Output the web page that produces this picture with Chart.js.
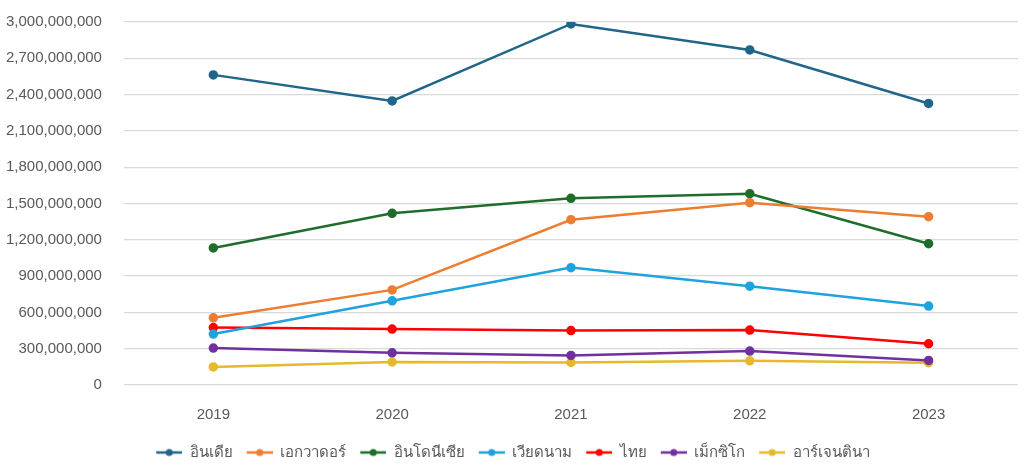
<!DOCTYPE html>
<html>
<head>
<meta charset="utf-8">
<script src="https://cdn.jsdelivr.net/npm/chart.js@4.4.1/dist/chart.umd.min.js"></script>
<style>
  html, body { margin: 0; padding: 0; background: #fff; }
</style>
</head>
<body>
<canvas id="lineChart" width="1024" height="472"></canvas>
<script>
// Data block
const years = ["2019", "2020", "2021", "2022", "2023"]
const india = [2563000000, 2348000000, 2984000000, 2769000000, 2327000000]
const ecuador = [555000000, 786000000, 1366000000, 1507000000, 1391000000]
const indonesia = [1133000000, 1419000000, 1543000000, 1581000000, 1168000000]
const vietnam = [421000000, 696000000, 970000000, 817000000, 652000000]
const thailand = [475000000, 462000000, 450000000, 454000000, 341000000]
const mexico = [305000000, 266000000, 244000000, 280000000, 203000000]
const argentina = [149000000, 190000000, 186000000, 200000000, 184000000]

const seriesNames = ["อินเดีย", "เอกวาดอร์", "อินโดนีเซีย", "เวียดนาม", "ไทย", "เม็กซิโก", "อาร์เจนตินา"]
const seriesValues = [india, ecuador, indonesia, vietnam, thailand, mexico, argentina]
const seriesColors = ["#20658a", "#ed7d31", "#1f6d2b", "#1ea3dd", "#ff0000", "#7030a0", "#e6b92c"]

const FONT = "Arial, 'Liberation Sans', sans-serif"

// legend marker: short line with a dot, pushed to the right of its box
function legendMarker(color) {
  const c = document.createElement("canvas")
  c.width = 32
  c.height = 10
  const ctx = c.getContext("2d")
  ctx.strokeStyle = color
  ctx.lineWidth = 2.5
  ctx.beginPath()
  ctx.moveTo(6, 5)
  ctx.lineTo(32, 5)
  ctx.stroke()
  ctx.fillStyle = color
  ctx.beginPath()
  ctx.arc(19, 5, 3.5, 0, Math.PI * 2)
  ctx.fill()
  return c
}

const data = {
  labels: years,
  datasets: seriesNames.map((name, i) => ({
    label: name,
    data: seriesValues[i],
    borderColor: seriesColors[i],
    backgroundColor: seriesColors[i],
    borderWidth: 2.5,
    pointRadius: 3.5,
    pointHoverRadius: 3.5,
    tension: 0
  }))
}

const config = {
  type: "line",
  data: data,
  options: {
    responsive: false,
    animation: false,
    layout: { padding: { top: 22, right: 6, left: 2, bottom: 2 } },
    scales: {
      x: {
        offset: true,
        grid: { display: false },
        border: { display: false },
        ticks: { color: "#595959", font: { family: FONT, size: 15 }, padding: 13 }
      },
      y: {
        min: 0,
        max: 3000000000,
        // invisible tick marks make the gap between labels and plot
        grid: { color: "#d9d9d9", lineWidth: 1.3, drawTicks: true, tickLength: 18, tickColor: "rgba(0,0,0,0)" },
        border: { display: false },
        ticks: {
          stepSize: 300000000,
          color: "#595959",
          font: { family: FONT, size: 15 },
          padding: 4,
          callback: v => v.toLocaleString("en-US")
        }
      }
    },
    plugins: {
      tooltip: { enabled: false },
      legend: {
        position: "bottom",
        labels: {
          color: "#595959",
          font: { family: FONT, size: 15 },
          usePointStyle: true,
          pointStyleWidth: 32,
          boxHeight: 10,
          padding: 8,
          generateLabels: chart => {
            const items = Chart.defaults.plugins.legend.labels.generateLabels(chart)
            items.forEach((it, i) => { it.pointStyle = legendMarker(seriesColors[i]) })
            return items
          }
        }
      }
    }
  }
}

new Chart(document.querySelector("#lineChart"), config)
</script>
</body>
</html>
